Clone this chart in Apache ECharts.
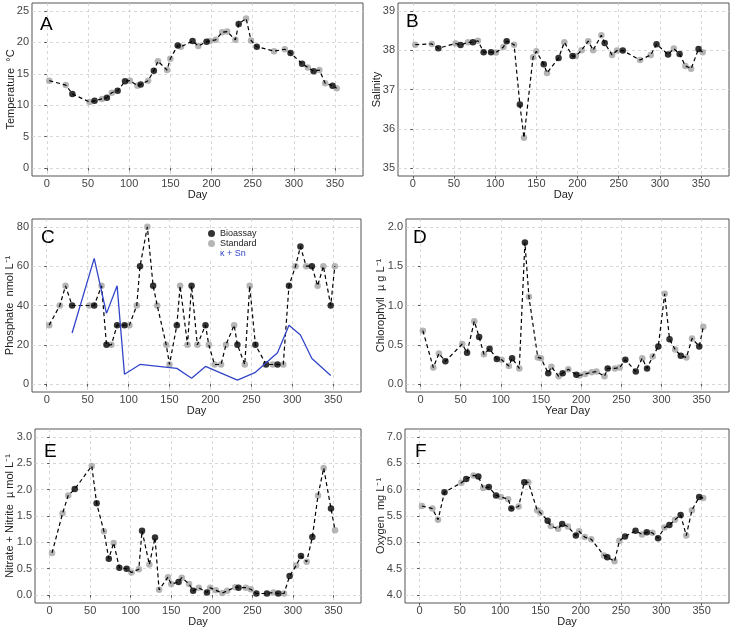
<!DOCTYPE html>
<html lang="en">
<head>
<meta charset="UTF-8">
<title>Seasonal cycle</title>
<script src="https://cdn.jsdelivr.net/npm/echarts@6.0.0/dist/echarts.min.js"></script>
<style>
  html, body { margin: 0; padding: 0; background: #fff; }
  #main { width: 733px; height: 629px; }
</style>
</head>
<body>
<div id="main"></div>
<script>
// tick values
const dayTicks = [0, 50, 100, 150, 200, 250, 300, 350];
const tempTicks = [0, 5, 10, 15, 20, 25];
const salTicks = [35, 36, 37, 38, 39];
const phosTicks = [0, 20, 40, 60, 80];
const chlTicks = [0, 0.5, 1, 1.5, 2];
const nitTicks = [0, 0.5, 1, 1.5, 2, 2.5, 3];
const oxyTicks = [4, 4.5, 5, 5.5, 6, 6.5, 7];

// A - temperature [day, value]
const tempBio = [[31,11.8],[58,10.7],[73,11.2],[86,12.3],[95,13.8],[114,13.3],[130,15.5],[159,19.5],[177,20.2],[194,20.1],[233,22.9],[255,19.3],[296,18.3],[310,16.6],[324,15.4],[347,13.1]];
const tempStd = [[3,13.9],[23,13.2],[52,10.5],[67,11.0],[79,12.0],[101,13.9],[110,13.1],[123,13.9],[135,17.0],[146,15.6],[150,17.4],[163,19.3],[184,19.4],[198,20.2],[205,20.4],[213,21.6],[219,21.7],[229,20.4],[242,23.8],[248,20.3],[276,18.6],[289,18.9],[317,16.0],[331,15.6],[338,13.5],[352,12.7]];

// B - salinity
const salBio = [[31,38.05],[58,38.13],[73,38.2],[86,37.95],[95,37.95],[114,38.23],[130,36.62],[159,37.64],[177,37.8],[194,37.85],[233,38.18],[255,37.99],[296,38.15],[310,37.89],[324,37.9],[347,38.03]];
const salStd = [[3,38.14],[23,38.16],[52,38.17],[67,38.2],[79,38.24],[101,37.94],[110,38.08],[123,38.14],[135,35.77],[146,37.82],[150,37.97],[163,37.42],[184,38.2],[198,37.85],[205,38.0],[213,38.23],[219,38.0],[229,38.38],[242,37.88],[248,37.99],[276,37.75],[289,37.88],[317,38.04],[331,37.6],[338,37.53],[352,37.95]];

// C - phosphate
const phosBio = [[31,40],[58,40],[73,20],[86,30],[95,30],[114,60],[130,50],[159,30],[177,50],[194,30],[233,20],[255,20],[268,10],[282,10],[296,50],[310,70],[324,60],[347,40]];
const phosStd = [[3,30],[16,40],[23,50],[52,40],[67,50],[79,20],[101,30],[110,40],[123,80],[135,40],[146,20],[150,10],[163,50],[172,20],[184,20],[198,20],[205,10],[213,10],[219,20],[229,30],[242,10],[248,50],[276,10],[289,10],[304,60],[317,60],[331,50],[338,60],[352,60]];
const phosKSn = [[31,26],[58,64],[73,36],[86,50],[95,5],[114,10],[159,8],[177,3],[194,9],[233,2],[255,6],[282,16],[296,30],[310,25],[324,13],[347,4.4]];

// D - chlorophyll
const chlBio = [[31,0.29],[58,0.40],[73,0.60],[86,0.45],[95,0.32],[114,0.33],[130,1.80],[159,0.14],[177,0.14],[194,0.12],[233,0.20],[255,0.31],[268,0.16],[282,0.20],[296,0.48],[310,0.57],[324,0.36],[347,0.48]];
const chlStd = [[3,0.68],[16,0.21],[23,0.39],[52,0.51],[67,0.80],[79,0.38],[101,0.31],[110,0.23],[123,0.20],[135,1.11],[146,0.34],[150,0.33],[163,0.22],[172,0.10],[184,0.19],[198,0.11],[205,0.13],[213,0.15],[219,0.16],[229,0.10],[242,0.20],[248,0.21],[276,0.33],[289,0.35],[304,1.15],[317,0.44],[331,0.34],[338,0.58],[352,0.73]];

// E - nitrate + nitrite
const nitBio = [[31,2.01],[58,1.74],[73,0.69],[86,0.52],[95,0.50],[114,1.22],[130,1.09],[159,0.25],[177,0.08],[194,0.05],[233,0.14],[255,0.03],[268,0.03],[282,0.03],[296,0.36],[310,0.74],[324,1.10],[347,1.64]];
const nitStd = [[3,0.80],[16,1.55],[23,1.89],[52,2.45],[67,1.21],[79,0.99],[101,0.43],[110,0.49],[123,0.58],[135,0.10],[146,0.34],[150,0.21],[163,0.33],[172,0.21],[184,0.14],[198,0.14],[205,0.09],[213,0.04],[219,0.08],[229,0.15],[242,0.14],[248,0.11],[276,0.05],[289,0.03],[304,0.56],[317,0.63],[331,1.89],[338,2.41],[352,1.23]];

// F - oxygen
const oxyBio = [[31,5.95],[58,6.20],[73,6.25],[86,6.05],[95,5.89],[114,5.64],[130,6.14],[159,5.41],[177,5.35],[194,5.13],[233,4.72],[255,5.11],[268,5.22],[282,5.19],[296,5.08],[310,5.33],[324,5.52],[347,5.86]];
const oxyStd = [[3,5.69],[16,5.64],[23,5.43],[52,6.13],[67,6.27],[79,6.03],[101,5.86],[110,5.82],[123,5.68],[135,6.14],[146,5.61],[150,5.56],[163,5.31],[172,5.26],[184,5.30],[198,5.21],[205,5.10],[213,5.06],[229,4.75],[242,4.64],[248,5.03],[276,5.15],[289,5.18],[304,5.28],[317,5.43],[331,5.13],[338,5.61],[352,5.84]];

const panels = [
  { letter: 'A', box: [32, 3, 331, 173], pos: [40, 15], xName: 'Day', yName: 'Temperature  °C', yr: [-1.25, 26.25], ticks: tempTicks, dec: 0, gap: 16, bio: tempBio, std: tempStd },
  { letter: 'B', box: [398, 3, 331, 173], pos: [406, 12], xName: 'Day', yName: 'Salinity', yr: [34.8, 39.2], ticks: salTicks, dec: 0, gap: 16, bio: salBio, std: salStd },
  { letter: 'C', box: [32, 219, 329, 173], pos: [41, 228], xName: 'Day', yName: 'Phosphate  nmol L⁻¹', yr: [-4, 84], ticks: phosTicks, dec: 0, gap: 17, bio: phosBio, std: phosStd },
  { letter: 'D', box: [406, 219, 323, 173], pos: [413, 228], xName: 'Year Day', yName: 'Chlorophyll  µ g L⁻¹', yr: [-0.1, 2.1], ticks: chlTicks, dec: 1, gap: 20, bio: chlBio, std: chlStd },
  { letter: 'E', box: [35, 429, 326, 174], pos: [44, 442], xName: 'Day', yName: 'Nitrate + Nitrite  µ mol L⁻¹', yr: [-0.15, 3.15], ticks: nitTicks, dec: 1, gap: 20, bio: nitBio, std: nitStd },
  { letter: 'F', box: [405, 429, 324, 174], pos: [415, 442], xName: 'Day', yName: 'Oxygen  mg L⁻¹', yr: [3.85, 7.15], ticks: oxyTicks, dec: 1, gap: 19, bio: oxyBio, std: oxyStd }
];

const font = "'Liberation Sans', Arial, sans-serif";
const gridLine = { show: true, lineStyle: { type: [3, 3], color: '#cfcfcf', width: 0.8 } };

const grids = [], xAxes = [], yAxes = [], series = [], texts = [];

panels.forEach((p, i) => {
  grids.push({ left: p.box[0], top: p.box[1], width: p.box[2], height: p.box[3], show: true, borderColor: '#555', borderWidth: 1 });
  xAxes.push({
    gridIndex: i, type: 'value', min: -18, max: 384,
    name: p.xName, nameLocation: 'middle', nameGap: 13, nameMoveOverlap: false,
    nameTextStyle: { fontFamily: font, fontSize: 11, color: '#222' },
    axisLine: { show: false },
    axisTick: { show: true, length: 2.5, customValues: dayTicks, lineStyle: { color: '#555' } },
    axisLabel: { customValues: dayTicks, margin: 2, fontFamily: font, fontSize: 11, color: '#444' },
    splitLine: gridLine
  });
  yAxes.push({
    gridIndex: i, type: 'value', min: p.yr[0], max: p.yr[1],
    name: p.yName, nameLocation: 'middle', nameRotate: 90, nameGap: p.gap, nameMoveOverlap: false,
    nameTextStyle: { fontFamily: font, fontSize: 11, color: '#222' },
    axisLine: { show: false },
    axisTick: { show: true, length: 2.5, customValues: p.ticks, lineStyle: { color: '#555' } },
    axisLabel: { customValues: p.ticks, margin: 3, fontFamily: font, fontSize: 11, color: '#444',
      formatter: v => v.toFixed(p.dec) },
    splitLine: gridLine
  });
  series.push({ name: 'Standard', type: 'scatter', xAxisIndex: i, yAxisIndex: i, data: p.std,
    symbolSize: 6.5, itemStyle: { color: '#a3a3a3' } });
  series.push({ name: 'Bioassay', type: 'scatter', xAxisIndex: i, yAxisIndex: i, data: p.bio,
    symbolSize: 6.5, itemStyle: { color: '#000' } });
  // dashed line through every sample in day order
  const all = p.bio.concat(p.std).sort((a, b) => a[0] - b[0]);
  series.push({ type: 'line', xAxisIndex: i, yAxisIndex: i, data: all, symbol: 'none', silent: true,
    lineStyle: { color: '#000', width: 1.2, type: [4, 3] } });
  texts.push({ type: 'text', left: p.pos[0], top: p.pos[1],
    style: { text: p.letter, fontSize: 19, fontFamily: font, fill: '#000' } });
});

series.push({ name: 'κ + Sn', type: 'line', xAxisIndex: 2, yAxisIndex: 2, data: phosKSn, symbol: 'none',
  lineStyle: { color: '#3346c8', width: 1.3 }, itemStyle: { color: '#3346c8' } });

const chart = echarts.init(document.getElementById('main'));
chart.setOption({
  animation: false,
  grid: grids,
  xAxis: xAxes,
  yAxis: yAxes,
  series: series,
  graphic: texts,
  legend: {
    orient: 'vertical', left: 205, top: 228, itemWidth: 7, itemHeight: 7, itemGap: 1,
    padding: [1, 3], backgroundColor: '#fff',
    textStyle: { fontFamily: font, fontSize: 9, color: '#222', lineHeight: 9 },
    data: [
      { name: 'Bioassay', icon: 'circle' },
      { name: 'Standard', icon: 'circle' },
      { name: 'κ + Sn', icon: 'none', textStyle: { color: '#3346c8' } }
    ]
  }
});
</script>
</body>
</html>
